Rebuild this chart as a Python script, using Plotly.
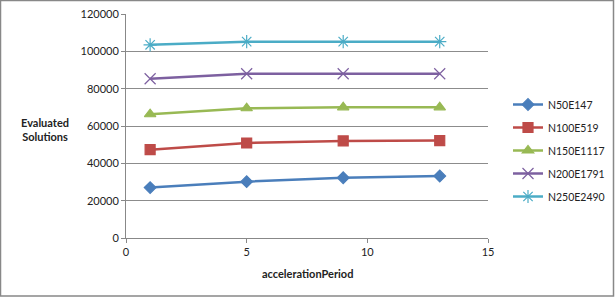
import plotly.graph_objects as go

x_vals = [1, 5, 9, 13]
series_names = ["N50E147", "N100E519", "N150E1117", "N200E1791", "N250E2490"]
n50 = [27000, 30200, 32300, 33200]
n100 = [47300, 50900, 52000, 52200]
n150 = [66300, 69500, 70000, 70000]
n200 = [85300, 88000, 88000, 88000]
n250 = [103500, 105200, 105200, 105200]
series_values = [n50, n100, n150, n200, n250]
colors = ["#4A7EBB", "#BE4B48", "#98B954", "#7D60A0", "#4BACC6"]
symbols = ["diamond", "square", "triangle-up", "x-thin-open", "asterisk-open"]
sizes = [9, 10, 10, 11, 11]
y_ticks = [0, 20000, 40000, 60000, 80000, 100000, 120000]
y_tick_labels = ["0", "20000", "40000", "60000", "80000", "100000", "120000"]
x_ticks = [0, 5, 10, 15]

W, H = 615, 298
ml, mr, mt, mb = 126, 127, 14, 60
pw, ph = W - ml - mr, H - mt - mb

fig = go.Figure()
for name, vals, c, s, sz in zip(series_names, series_values, colors, symbols, sizes):
    fig.add_trace(go.Scatter(
        x=x_vals, y=vals, name=name, mode="lines+markers", legendgroup=name,
        line=dict(color=c, width=2.5),
        marker=dict(symbol=s, size=sz, color=c, line=dict(color=c, width=1.2)),
    ))

font_fam = "Lato, 'Open Sans', sans-serif"
fig.update_layout(
    width=W, height=H,
    margin=dict(l=ml, r=mr, t=mt, b=mb, autoexpand=False),
    paper_bgcolor="white", plot_bgcolor="white",
    font=dict(family=font_fam, size=11, color="#222"),
    showlegend=True,
    legend=dict(xref="container", yref="container", x=508 / W, y=1 - 90 / H,
                xanchor="left", yanchor="top",
                font=dict(size=10.5, color="#222"), tracegroupgap=4,
                itemwidth=30, bgcolor="rgba(0,0,0,0)"),
    xaxis=dict(range=[0, 15], tickvals=x_ticks, showgrid=False, zeroline=False,
               showline=True, linecolor="#888", linewidth=1,
               ticks="outside", ticklen=4, tickcolor="#888",
               tickfont=dict(size=11, color="#222")),
    yaxis=dict(range=[0, 120000], tickvals=y_ticks, ticktext=y_tick_labels,
               showgrid=True, gridcolor="#8c8c8c",
               gridwidth=1, zeroline=False, showline=True, linecolor="#888", linewidth=1,
               ticks="outside", ticklen=4, tickcolor="#888",
               tickfont=dict(size=11, color="#222"), ticksuffix=" "),
)

fig.add_annotation(text="<b>Evaluated<br>Solutions</b>", xref="paper", yref="paper",
                   x=(45 - ml) / pw, y=1 - (129 - mt) / ph, showarrow=False,
                   xanchor="center", yanchor="middle",
                   font=dict(size=11, color="#222", family=font_fam), align="center")
fig.add_annotation(text="<b>accelerationPeriod</b>", xref="paper", yref="paper",
                   x=(307 - ml) / pw, y=1 - (273 - mt) / ph, showarrow=False,
                   xanchor="center", yanchor="middle",
                   font=dict(size=11, color="#222", family=font_fam))

fig.add_shape(type="rect", xref="paper", yref="paper",
              x0=(0.5 - ml) / pw, x1=(W - 1.5 - ml) / pw,
              y0=1 - (H - 2 - mt) / ph, y1=1 - (0.5 - mt) / ph,
              line=dict(color="#888", width=1.5), layer="below")

fig.write_html("out.html", config={"displayModeBar": False},
               post_script="document.body.style.margin='0';document.body.style.overflow='hidden';")
